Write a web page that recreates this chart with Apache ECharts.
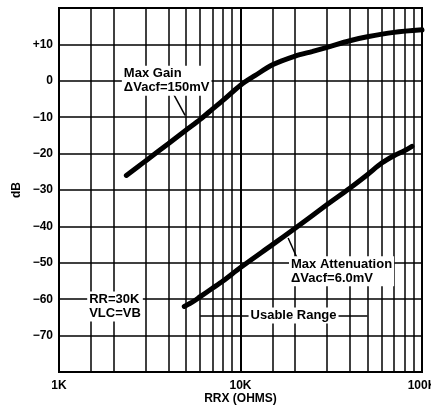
<!DOCTYPE html>
<html>
<head>
<meta charset="utf-8">
<script src="https://cdn.jsdelivr.net/npm/echarts@6/dist/echarts.min.js"></script>
<style>
  html, body { margin: 0; padding: 0; background: #fff; }
  #chart { width: 431px; height: 406px; }
</style>
</head>
<body>
<div id="chart"></div>
<script>

// curve data (RRX in ohms, level in dB)
var gainX = [2350, 3000, 4000, 5000, 6000, 7000, 8000, 10000, 12000, 15000, 20000, 25000, 30000, 40000, 50000, 70000, 100000];
var gainY = [-26, -22, -17.3, -13.6, -10.6, -7.8, -5.4, -1.2, 1.4, 4.4, 6.8, 8.1, 9.2, 11, 12.1, 13.3, 14];

var attX = [4900, 5500, 6000, 7000, 8000, 10000, 15000, 20000, 30000, 40000, 50000, 60000, 70000, 80000, 88000];
var attY = [-62, -60.6, -59.3, -57, -55, -51.3, -45, -40.5, -34, -29.5, -25.8, -22.6, -20.6, -19.2, -18];

// minor vertical grid lines of the log paper
var gridX = [1500, 2000, 3000, 4000, 5000, 6000, 7000, 8000, 9000,
             15000, 20000, 30000, 40000, 50000, 60000, 70000, 80000, 90000];

// annotation texts
var noteText = ['Max Gain\nΔVacf=150mV', 'Max Attenuation\nΔVacf=6.0mV', 'RR=30K\nVLC=VB', 'Usable Range'];
var noteX = [2220, 18500, 1430, 19600];
var noteY = [0, -52.3, -62, -64.5];
var notePos = ['right', 'right', 'right', 'inside'];

// leader lines and the usable range bar
var leaders = [
    [[4250, -3.4], [4950, -9.5]],
    [[18300, -43.2], [20500, -48.7]],
    [[6000, -64.5], [50000, -64.5]]
];

var myChart = echarts.init(document.getElementById('chart'));

var gridLines = gridX.map(function (v) {
    return {xAxis: v};
});
var leaderLines = leaders.map(function (seg) {
    return [{coord: seg[0]}, {coord: seg[1]}];
});
var notes = noteText.map(function (t, i) {
    return {
        value: [noteX[i], noteY[i], t],
        label: {position: notePos[i], distance: 0}
    };
});

var option = {
    animation: false,
    backgroundColor: '#fff',
    grid: {
        left: 59, right: 9, top: 8, bottom: 34,
        outerBoundsMode: 'none',
        containLabel: false,
        show: true,
        borderColor: '#000',
        borderWidth: 2
    },
    xAxis: {
        type: 'log',
        logBase: 10,
        min: 1000,
        max: 100000,
        name: 'RRX (OHMS)',
        nameLocation: 'middle',
        nameGap: 21,
        nameMoveOverlap: false,
        nameTextStyle: {color: '#000', fontFamily: 'Liberation Sans', fontWeight: 'bold', fontSize: 12},
        axisLine: {show: false},
        axisTick: {show: false},
        axisLabel: {
            color: '#000', fontFamily: 'Liberation Sans', fontWeight: 'bold', fontSize: 12, margin: 8,
            hideOverlap: false,
            formatter: function (v) { return (v / 1000) + 'K'; }
        },
        splitLine: {show: true, lineStyle: {color: '#000', width: 2}}
    },
    yAxis: {
        type: 'value',
        min: -80,
        max: 20,
        interval: 10,
        name: 'dB',
        nameLocation: 'middle',
        nameRotate: 90,
        nameGap: 36,
        nameMoveOverlap: false,
        nameTextStyle: {color: '#000', fontFamily: 'Liberation Sans', fontWeight: 'bold', fontSize: 12},
        axisLine: {show: false},
        axisTick: {show: false},
        axisLabel: {
            color: '#000', fontFamily: 'Liberation Sans', fontWeight: 'bold', fontSize: 12, margin: 6,
            formatter: function (v) {
                if (v === 20 || v === -80) return '';
                if (v > 0) return '+' + v;
                if (v < 0) return '\u2212' + (-v);
                return '0';
            }
        },
        splitLine: {show: true, lineStyle: {color: '#000', width: 1.5}}
    },
    series: [
        {
            // log paper minor lines + leaders
            type: 'line',
            data: [],
            z: 1,
            silent: true,
            markLine: {
                silent: true,
                symbol: 'none',
                label: {show: false},
                lineStyle: {color: '#000', width: 1.5, type: 'solid', opacity: 1},
                emphasis: {disabled: true},
                data: gridLines.concat(leaderLines)
            }
        },
        {
            name: 'Max Gain',
            type: 'line',
            z: 3,
            showSymbol: false,
            smooth: 0.3,
            data: gainX.map(function (x, i) { return [x, gainY[i]]; }),
            lineStyle: {color: '#000', width: 5, cap: 'round'}
        },
        {
            name: 'Max Attenuation',
            type: 'line',
            z: 3,
            showSymbol: false,
            smooth: 0.3,
            data: attX.map(function (x, i) { return [x, attY[i]]; }),
            lineStyle: {color: '#000', width: 5, cap: 'round'}
        },
        {
            type: 'scatter',
            z: 10,
            symbolSize: 0,
            itemStyle: {color: '#fff', opacity: 1},
            silent: true,
            data: notes,
            label: {
                show: true,
                color: '#000',
                opacity: 1,
                fontFamily: 'Liberation Sans',
                fontWeight: 'bold',
                fontSize: 13,
                lineHeight: 14,
                backgroundColor: '#fff',
                padding: [1, 2],
                formatter: function (p) { return p.value[2]; }
            }
        }
    ]
};

myChart.setOption(option);
</script>
</body>
</html>
